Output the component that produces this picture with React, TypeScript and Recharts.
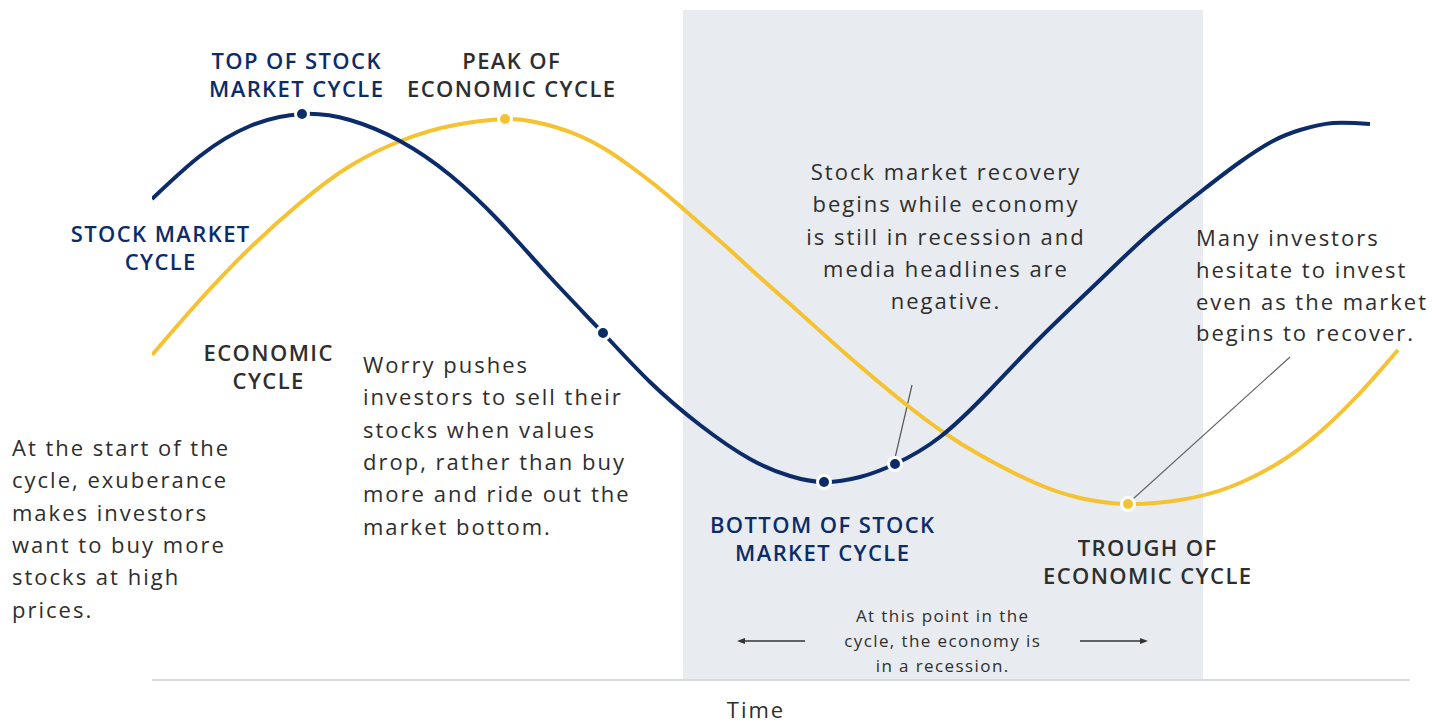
import React from "react";
import {
  LineChart,
  Line,
  XAxis,
  YAxis,
  ReferenceArea,
  ReferenceDot,
  ReferenceLine,
} from "recharts";

// Time (arbitrary units) and level (arbitrary units)
const stockTime = [0, 48, 98, 150, 198, 248, 298, 348, 398, 451, 498, 548, 598, 638, 672, 708, 743, 788, 838, 888, 948, 998, 1051, 1088, 1121, 1148, 1181, 1218];
const stockLevel = [481, 524, 554, 566, 560, 539, 505, 458, 403, 347, 298, 255, 221, 204, 198, 203, 216, 243, 290, 342, 400, 447, 490, 518, 539, 550, 557, 556];

const econTime = [0, 48, 98, 148, 198, 251, 303, 353, 378, 403, 428, 453, 478, 503, 528, 553, 578, 603, 648, 695, 751, 791, 828, 881, 928, 976, 1028, 1078, 1128, 1168, 1208, 1246];
const econLevel = [325, 380, 432, 477, 514, 540, 555, 561, 559, 553, 544, 531, 514, 495, 474, 452, 430, 407, 367, 325, 278, 248, 225, 198, 182, 176, 180, 193, 218, 248, 287, 330];

// Highlighted points
const stockMarkerTime = [150, 451, 672, 743];
const stockMarkerLevel = [566, 347, 198, 216];
const econMarkerTime = [353, 976];
const econMarkerLevel = [561, 176];

// Recession band
const recessionStart = 531;
const recessionEnd = 1051;

const X_DOMAIN: [number, number] = [0, 1258];
const Y_DOMAIN: [number, number] = [0, 670];

const stockData = stockTime.map((t, i) => ({ t, v: stockLevel[i] }));
const econData = econTime.map((t, i) => ({ t, v: econLevel[i] }));

const NAVY = "#0c2c69";
const GOLD = "#f5c232";
const DARK = "#2e2e2e";
const FONT = "'Open Sans', Lato, sans-serif";

type NoteProps = {
  x: number;
  y: number;
  lines: string[];
  align?: "left" | "center";
  size?: number;
  lh?: number;
  ls?: number;
  color?: string;
  weight?: number;
};

function Note({ x, y, lines, align = "left", size = 22, lh = 32.4, ls = 2, color = DARK, weight = 400 }: NoteProps) {
  const width = 440;
  const left = align === "center" ? x - width / 2 + ls / 2 : x;
  return (
    <div
      style={{
        position: "absolute",
        left,
        top: y - lh / 2,
        width,
        textAlign: align,
        fontFamily: FONT,
        fontSize: size,
        lineHeight: `${lh}px`,
        letterSpacing: ls,
        color,
        fontWeight: weight,
        whiteSpace: "nowrap",
        pointerEvents: "none",
      }}
    >
      {lines.map((l, i) => (
        <div key={i}>{l}</div>
      ))}
    </div>
  );
}

function Arrow({ x1, x2, y }: { x1: number; x2: number; y: number }) {
  const left = Math.min(x1, x2) - 2;
  const w = Math.abs(x2 - x1) + 4;
  const dir = x2 > x1 ? 1 : -1;
  const ax = x2 - left;
  return (
    <svg style={{ position: "absolute", left, top: y - 6, overflow: "visible" }} width={w} height={12}>
      <line x1={x1 - left} y1={6} x2={ax - dir * 4} y2={6} stroke="#333" strokeWidth={1.3} />
      <polygon points={`${ax},6 ${ax - dir * 8},3 ${ax - dir * 8},9`} fill="#333" />
    </svg>
  );
}

export default function App() {
  return (
    <div style={{ position: "absolute", left: 0, top: 0, width: 1440, height: 725, background: "#fff", overflow: "hidden" }}>
      <LineChart width={1440} height={725} margin={{ top: 10, right: 30, left: 152, bottom: 0 }}>
        <ReferenceArea
          x1={recessionStart}
          x2={recessionEnd}
          y1={Y_DOMAIN[0]}
          y2={Y_DOMAIN[1]}
          fill="#e8ecf0"
          fillOpacity={1}
          stroke="none"
        />
        <XAxis
          type="number"
          dataKey="t"
          domain={X_DOMAIN}
          tick={false}
          tickLine={false}
          axisLine={{ stroke: "#d6d9dd", strokeWidth: 2 }}
          height={45}
          allowDataOverflow
        />
        <YAxis type="number" domain={Y_DOMAIN} hide allowDataOverflow />
        <ReferenceLine
          segment={[{ x: 760, y: 295 }, { x: 743, y: 222 }]}
          stroke="#555"
          strokeWidth={1.2}
        />
        <ReferenceLine
          segment={[{ x: 1138, y: 323 }, { x: 981, y: 181 }]}
          stroke="#666"
          strokeWidth={1.2}
        />
        <Line
          data={econData}
          dataKey="v"
          type="natural"
          stroke={GOLD}
          strokeWidth={4}
          dot={false}
          activeDot={false}
          isAnimationActive={false}
        />
        <Line
          data={stockData}
          dataKey="v"
          type="natural"
          stroke={NAVY}
          strokeWidth={4}
          dot={false}
          activeDot={false}
          isAnimationActive={false}
        />
        {stockMarkerTime.map((t, i) => (
          <ReferenceDot key={"s" + i} x={t} y={stockMarkerLevel[i]} r={6.5} fill={NAVY} stroke="#fff" strokeWidth={3} />
        ))}
        {econMarkerTime.map((t, i) => (
          <ReferenceDot key={"e" + i} x={t} y={econMarkerLevel[i]} r={6.5} fill={GOLD} stroke="#fff" strokeWidth={3} />
        ))}
      </LineChart>

      <Note x={296} y={60} lh={28} size={22} ls={1.4} weight={600} color={NAVY} align="center" lines={["TOP OF STOCK", "MARKET CYCLE"]} />
      <Note x={511} y={60} lh={28} size={22} ls={1.4} weight={600} color={DARK} align="center" lines={["PEAK OF", "ECONOMIC CYCLE"]} />
      <Note x={160} y={233} lh={28} size={22} ls={1.4} weight={600} color={NAVY} align="center" lines={["STOCK MARKET", "CYCLE"]} />
      <Note x={268} y={352} lh={28} size={22} ls={1.4} weight={600} color={DARK} align="center" lines={["ECONOMIC", "CYCLE"]} />
      <Note x={822} y={524} lh={28} size={22} ls={1.4} weight={600} color={NAVY} align="center" lines={["BOTTOM OF STOCK", "MARKET CYCLE"]} />
      <Note x={1147} y={547} lh={28} size={22} ls={1.4} weight={600} color={DARK} align="center" lines={["TROUGH OF", "ECONOMIC CYCLE"]} />

      <Note x={12} y={447} lines={["At the start of the", "cycle, exuberance", "makes investors", "want to buy more", "stocks at high", "prices."]} />
      <Note x={363} y={364} lines={["Worry pushes", "investors to sell their", "stocks when values", "drop, rather than buy", "more and ride out the", "market bottom."]} />
      <Note x={945} y={171} align="center" lines={["Stock market recovery", "begins while economy", "is still in recession and", "media headlines are", "negative."]} />
      <Note x={1196} y={238} lh={31.7} lines={["Many investors", "hesitate to invest", "even as the market", "begins to recover."]} />
      <Note x={942} y={615} align="center" size={17} lh={25} ls={1.4} lines={["At this point in the", "cycle, the economy is", "in a recession."]} />
      <Note x={755} y={709} align="center" size={22} lh={20} ls={2} lines={["Time"]} />

      <Arrow x1={805} x2={737} y={641} />
      <Arrow x1={1080} x2={1148} y={641} />
    </div>
  );
}
